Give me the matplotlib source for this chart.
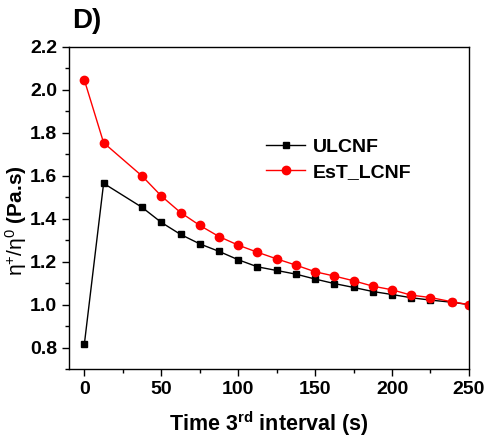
import matplotlib
matplotlib.use("Agg")
import matplotlib.pyplot as plt
from matplotlib.ticker import MultipleLocator

plt.rcParams['font.family'] = ['Liberation Sans', 'DejaVu Sans']
plt.rcParams['mathtext.fontset'] = 'custom'
plt.rcParams['mathtext.rm'] = 'Liberation Sans'
plt.rcParams['mathtext.it'] = 'Liberation Sans'
plt.rcParams['mathtext.bf'] = 'Liberation Sans:bold'

time_s = [0, 12.5, 37.5, 50, 62.5, 75, 87.5, 100, 112.5, 125, 137.5, 150,
          162.5, 175, 187.5, 200, 212.5, 225, 239, 250]
ulcnf = [0.817, 1.565, 1.453, 1.383, 1.327, 1.283, 1.248, 1.209, 1.176, 1.159,
         1.142, 1.119, 1.098, 1.080, 1.061, 1.047, 1.032, 1.021, 1.011, 1.0]
est_lcnf = [2.046, 1.754, 1.599, 1.506, 1.429, 1.369, 1.317, 1.277, 1.244, 1.213,
            1.184, 1.153, 1.133, 1.111, 1.086, 1.069, 1.044, 1.033, 1.013, 1.0]

fig = plt.figure(figsize=(4.89, 4.38), dpi=100)
ax = fig.add_axes([0.1411, 0.1575, 0.959 - 0.1411, 0.8927 - 0.1575])

ax.plot(time_s, ulcnf, color='black', marker='s', markersize=5, linewidth=1, label='ULCNF')
ax.plot(time_s, est_lcnf, color='#ff0000', marker='o', markersize=6, linewidth=1, label='EsT_LCNF')

ax.set_xlim(-10, 250)
ax.set_ylim(0.7, 2.2)
ax.xaxis.set_major_locator(MultipleLocator(50))
ax.xaxis.set_minor_locator(MultipleLocator(25))
ax.yaxis.set_major_locator(MultipleLocator(0.2))
ax.yaxis.set_minor_locator(MultipleLocator(0.1))
ax.yaxis.set_major_formatter(matplotlib.ticker.FormatStrFormatter('%.1f'))
ax.tick_params(which='major', direction='out', length=5, width=1, labelsize=14)
ax.tick_params(which='minor', direction='out', length=3, width=1)
for lab in ax.get_xticklabels() + ax.get_yticklabels():
    lab.set_fontweight('bold')
for s in ax.spines.values():
    s.set_linewidth(1)

ax.set_xlabel(r'Time 3$^{\mathbf{rd}}$ interval (s)', fontsize=15.5, fontweight='bold', labelpad=8)
ax.set_ylabel(r'$\mathrm{\eta}^{+}/\mathrm{\eta}^{0}$ (Pa.s)', fontsize=15, fontweight='bold')
ax.yaxis.set_label_coords(-0.1, 0.46)

fig.text(0.148, 0.935, 'D)', fontsize=20, fontweight='bold')

leg = ax.legend(loc='upper left', bbox_to_anchor=(0.45, 0.77), frameon=False,
                prop={'weight': 'bold', 'size': 14}, handlelength=2.0, labelspacing=0.35,
                handletextpad=0.4)

fig.savefig('out.png', dpi=100)
